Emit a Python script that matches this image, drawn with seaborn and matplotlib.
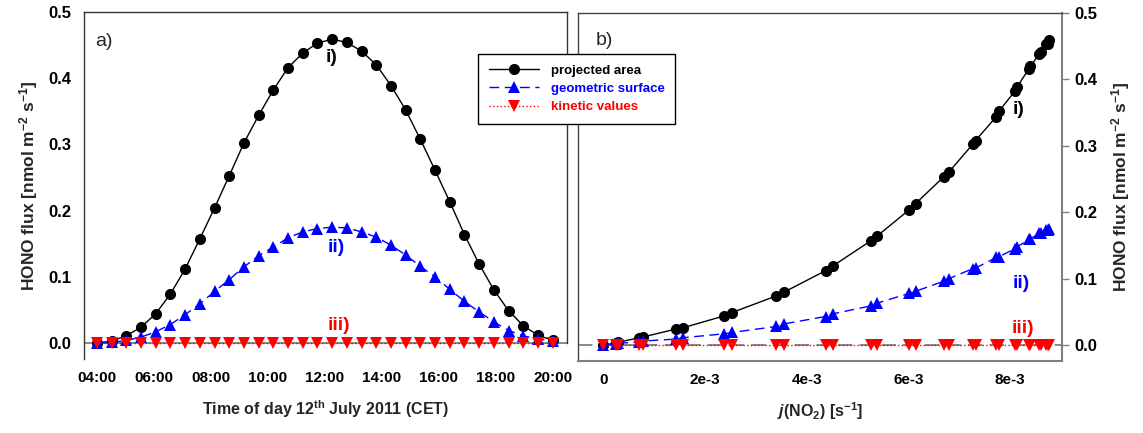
import numpy as np
import pandas as pd
import matplotlib.pyplot as plt
import seaborn as sns

# time of day (h, CET) for each modelled point
hours = [4.00, 4.52, 5.03, 5.55, 6.06, 6.58, 7.10, 7.61, 8.13, 8.65, 9.16,
         9.68, 10.19, 10.71, 11.23, 11.74, 12.26, 12.77, 13.29, 13.81, 14.32,
         14.84, 15.35, 15.87, 16.39, 16.90, 17.42, 17.94, 18.45, 18.97, 19.48, 20.00]

# HONO flux [nmol m-2 s-1]
projected = [0.000, 0.003, 0.011, 0.024, 0.044, 0.074, 0.112, 0.157, 0.204, 0.253, 0.302,
             0.344, 0.382, 0.416, 0.438, 0.453, 0.459, 0.454, 0.441, 0.420, 0.389,
             0.352, 0.308, 0.261, 0.213, 0.164, 0.119, 0.080, 0.049, 0.026, 0.012, 0.004]
geometric = [0.000, 0.001, 0.004, 0.009, 0.017, 0.028, 0.043, 0.059, 0.078, 0.096, 0.115,
             0.132, 0.145, 0.159, 0.168, 0.173, 0.175, 0.174, 0.168, 0.160, 0.148,
             0.133, 0.116, 0.100, 0.081, 0.063, 0.047, 0.032, 0.019, 0.011, 0.006, 0.003]
kinetic = [0.000, 0.000, 0.000, 0.000, 0.000, 0.000, 0.000, 0.000, 0.000, 0.000, 0.000,
           0.000, 0.000, 0.000, 0.000, 0.000, 0.000, 0.000, 0.000, 0.000, 0.000,
           0.000, 0.000, 0.000, 0.000, 0.000, 0.000, 0.000, 0.000, 0.000, 0.000, 0.000]

# photolysis frequency j(NO2) [s-1] at the same times
jno2 = [0.00e-3, 0.24e-3, 0.70e-3, 1.42e-3, 2.38e-3, 3.40e-3, 4.37e-3, 5.26e-3, 6.02e-3,
        6.69e-3, 7.26e-3, 7.73e-3, 8.09e-3, 8.37e-3, 8.57e-3, 8.71e-3, 8.77e-3, 8.74e-3,
        8.60e-3, 8.40e-3, 8.14e-3, 7.78e-3, 7.32e-3, 6.80e-3, 6.14e-3, 5.38e-3, 4.51e-3,
        3.56e-3, 2.53e-3, 1.56e-3, 0.77e-3, 0.28e-3]

time_ticks = [4, 6, 8, 10, 12, 14, 16, 18, 20]
time_labels = ['04:00', '06:00', '08:00', '10:00', '12:00', '14:00', '16:00', '18:00', '20:00']
j_ticks = [0, 2e-3, 4e-3, 6e-3, 8e-3]
j_labels = ['0', '2e-3', '4e-3', '6e-3', '8e-3']
flux_ticks = [0.0, 0.1, 0.2, 0.3, 0.4, 0.5]
series_labels = ['projected area', 'geometric surface', 'kinetic values']

df = pd.DataFrame({'hour': hours, 'jno2': jno2, 'projected': projected,
                   'geometric': geometric, 'kinetic': kinetic})

sns.set_style('white')
plt.rcParams['font.family'] = ['Liberation Sans', 'DejaVu Sans']
plt.rcParams['mathtext.fontset'] = 'custom'
plt.rcParams['mathtext.rm'] = 'Liberation Sans:bold'
plt.rcParams['mathtext.bf'] = 'Liberation Sans:bold'
plt.rcParams['mathtext.it'] = 'Liberation Sans:bold:italic'

styles = [
    ('projected', 'black', '-', 'o'),
    ('geometric', 'blue', (0, (7, 4)), '^'),
    ('kinetic', 'red', ':', 'v'),
]

fig = plt.figure(figsize=(11.43, 4.33), dpi=100)
ax1 = fig.add_axes([84 / 1143, 1 - 359 / 433, 483 / 1143, 347 / 433])
ax2 = fig.add_axes([578 / 1143, 1 - 361 / 433, 484 / 1143, 348 / 433])

for ax, xcol in [(ax1, 'hour'), (ax2, 'jno2')]:
    ax.axhline(0, color='#808080', lw=1.3, ls='-' if ax is ax1 else (0, (8, 4)), zorder=1)
    for (col, color, ls, mk), lab in zip(styles, series_labels):
        sns.lineplot(data=df, x=xcol, y=col, ax=ax, color=color, linestyle=ls, lw=1,
                     marker=mk, markersize=8, markeredgewidth=0, estimator=None,
                     sort=(ax is ax2), label=lab, zorder=3)
    ax.get_legend().remove()
    ax.set_ylim(-0.024, 0.5)
    ax.set_yticks(flux_ticks)
    ax.set_yticklabels([f'{t:.1f}' for t in flux_ticks], fontsize=12, fontweight='bold')
    ax.tick_params(axis='both', direction='out', length=5, width=1, pad=4)
    ax.set_ylabel('HONO flux [nmol m$^{-2}$ s$^{-1}$]', fontsize=12.5, fontweight='bold')

# left panel: time of day
ax1.set_xlim(3.55, 20.5)
ax1.set_xticks(time_ticks)
ax1.set_xticklabels(time_labels, fontsize=11, fontweight='bold')
ax1.set_xlabel('Time of day 12$^{\\mathrm{th}}$ July 2011 (CET)', fontsize=11.5,
               fontweight='bold', labelpad=9)
ax1.yaxis.labelpad = 6
ax1.spines['bottom'].set_visible(False)
ax1.spines['right'].set_bounds(0, 0.5)
for s in ['left', 'top', 'right']:
    ax1.spines[s].set_color('#333333')
    ax1.spines[s].set_linewidth(1)
ax1.tick_params(axis='both', colors='#333333', labelcolor='black')
ax1.text(3.95, 0.455, 'a)', fontsize=14, va='center')
ax1.text(12.25, 0.432, 'i)', color='black', fontsize=14, fontweight='bold', ha='center', va='center')
ax1.text(12.4, 0.145, 'ii)', color='blue', fontsize=14, fontweight='bold', ha='center', va='center')
ax1.text(12.5, 0.027, 'iii)', color='red', fontsize=14, fontweight='bold', ha='center', va='center')

# right panel: j(NO2)
ax2.set_xlim(-0.5e-3, 9.02e-3)
ax2.set_xticks(j_ticks)
ax2.set_xticklabels(j_labels, fontsize=11, fontweight='bold')
ax2.set_xlabel('$\\mathit{j}$(NO$_2$) [s$^{-1}$]', fontsize=11.5, fontweight='bold', labelpad=9)
ax2.yaxis.tick_right()
ax2.yaxis.set_label_position('right')
ax2.yaxis.labelpad = 8
for s in ['left', 'top']:
    ax2.spines[s].set_color('#444444')
    ax2.spines[s].set_linewidth(1)
for s in ['right', 'bottom']:
    ax2.spines[s].set_color('#808080')
    ax2.spines[s].set_linewidth(1.5)
ax2.tick_params(axis='both', colors='#808080', labelcolor='black')
ax2.text(-0.15e-3, 0.458, 'b)', fontsize=14, va='center')
ax2.text(8.16e-3, 0.354, 'i)', color='black', fontsize=14, fontweight='bold', ha='center', va='center')
ax2.text(8.22e-3, 0.093, 'ii)', color='blue', fontsize=14, fontweight='bold', ha='center', va='center')
ax2.text(8.25e-3, 0.025, 'iii)', color='red', fontsize=14, fontweight='bold', ha='center', va='center')

handles, labels = ax1.get_legend_handles_labels()
leg = fig.legend(handles, labels, loc='upper left', bbox_to_anchor=(478 / 1143, 1 - 54 / 433),
                 borderaxespad=0, frameon=True, fancybox=False, edgecolor='black',
                 framealpha=1, prop={'weight': 'bold', 'size': 9.5}, handlelength=3.8,
                 borderpad=0.8, labelspacing=0.45, handletextpad=0.9)
leg.get_frame().set_linewidth(1)
for txt, (_, color, _, _) in zip(leg.get_texts(), styles):
    txt.set_color(color)

fig.savefig('out.png', dpi=100)
